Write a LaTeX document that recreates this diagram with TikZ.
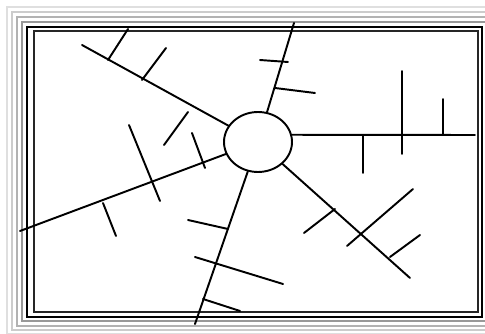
\documentclass[tikz,border=0pt]{standalone}
\usetikzlibrary{shapes.geometric}
\tikzset{
  hubnode/.style={draw, ellipse, inner sep=0pt, minimum width=1.36cm, minimum height=1.2cm},
  frameline/.style={line width=0.9pt}
}
\begin{document}
\begin{tikzpicture}[x=0.02cm, y=-0.02cm, line width=1.1pt, line cap=round]
\useasboundingbox (0,0) rectangle (485,334);
% frame
\draw[frameline, gray!25] (7,7) rectangle (500,334);
\draw[frameline, gray!40] (12,12) rectangle (495,330);
\draw[frameline, gray!60] (17,17) rectangle (490,326);
\draw[frameline, gray!80] (22,22) rectangle (486,321);
\draw[frameline, black] (27,27) rectangle (482,317);
\draw[frameline, black!85] (34,31) rectangle (478,312);

\node[hubnode] (hub) at (258,142) {};
\coordinate (ul) at (82,45);
\coordinate (up) at (294,23);
\coordinate (rt) at (475,135);
\coordinate (ll) at (20,231);
\coordinate (dn) at (195,324);
\coordinate (lr) at (410,278);

\draw (hub) -- (ul);
\draw (hub) -- (up);
\draw (hub.12) -- (rt);
\draw (hub) -- (ll);
\draw (hub) -- (dn);
\draw (hub) -- (lr);

% upper left
\draw (108,60) -- (128,29);
\draw (142,80) -- (166,48);
\draw (188,112) -- (164,145);
% up
\draw (260,60) -- (288,62);
\draw (275,88) -- (315,93);
% right
\draw (363,135) -- (363,173);
\draw (402,71) -- (402,154);
\draw (443,99) -- (443,135);
% lower left
\draw (103,203) -- (116,236);
\draw (129,125) -- (160,201);
\draw (192,133) -- (205,168);
% down
\draw (188,220) -- (228,229);
\draw (195,257) -- (283,284);
\draw (203,299) -- (240,311);
% lower right
\draw (304,233) -- (335,209);
\draw (347,246) -- (413,189);
\draw (390,257) -- (420,235);
\end{tikzpicture}
\end{document}
